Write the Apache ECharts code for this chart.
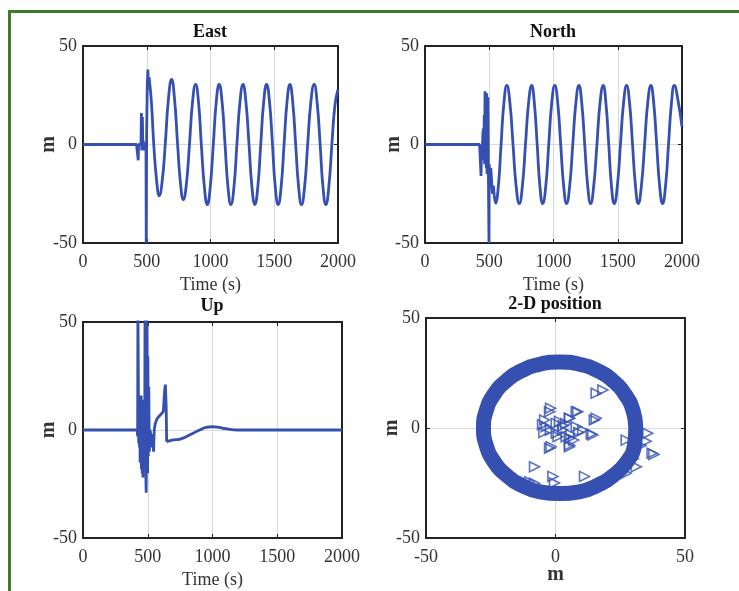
<!DOCTYPE html>
<html><head><meta charset="utf-8">
<script src="https://cdn.jsdelivr.net/npm/echarts@6/dist/echarts.min.js"></script>
<style>html,body{margin:0;padding:0;background:#fff}#c{width:739px;height:591px}</style>
</head><body><div id="c"></div>
<script>
// ---- data ----
const panelTitles = ['East', 'North', 'Up', '2-D position'];
const timeTicks = [0, 500, 1000, 1500, 2000];
const metreTicks = [-50, 0, 50];

// East: transient part (straight segments) and steady oscillation (smoothed)
const eastTransient = [[0,0],[420,0],[430,0],[433,-8],[436,0],[448,-1],[455,0],[458,16],[461,-3],[466,14],[469,-2],[472,2],[478,-3],[484,1],[490,-2],[494,0],[496,-50],[499,5],[504,30],[509,38],[513,28],[518,34]];
const eastSteady = [[518,34],[536,22],[555,0],[577,-18],[598,-26],[622,-18],[645,0],[670,23],[695,33],[718,23],[742,0],[765,-20],[787,-28],[811,-20],[835,0],[859,21.5],[883,30.5],[906,21.5],[928,0],[952,-21.5],[975,-30.5],[998,-21.5],[1022,0],[1045,21.5],[1068,30.5],[1091,21.5],[1114,0],[1137,-21.5],[1160,-30.5],[1184,-21.5],[1207,0],[1231,21.5],[1255,30.5],[1278,21.5],[1302,0],[1325,-21.5],[1348,-30.5],[1371,-21.5],[1394,0],[1417,21.5],[1440,30.5],[1463,21.5],[1486,0],[1508,-21.5],[1531,-30.5],[1554,-21.5],[1577,0],[1600,21.5],[1623,30.5],[1645,21.5],[1668,0],[1691,-21.5],[1714,-30.5],[1738,-21.5],[1762,0],[1787,21.5],[1813,30.5],[1836,21.5],[1860,0],[1882,-21.5],[1905,-30.5],[1928,-21.5],[1952,0],[1976,20],[2000,28]];

// North
const northTransient = [[0,0],[425,0],[430,0],[436,-16],[440,0],[445,-5],[450,5],[454,8],[457,-8],[461,15],[464,-10],[467,27],[470,-5],[474,20],[477,-12],[480,26],[483,-15],[486,18],[488,-10],[490,24],[494,-20],[498,-50],[500,-10],[506,-20],[512,-12],[525,-25],[533,-21]];
const northSteady = [[533,-21],[550,-29.8],[571,-21],[592,0],[614,21],[637,30],[661,21],[685,0],[709,-21],[734,-30],[758,-21],[782,0],[806,21],[830,30],[851,21],[873,0],[894,-21],[916,-30],[940,-21],[963,0],[986,21],[1010,30],[1033,21],[1056,0],[1079,-21],[1102,-30],[1126,-21],[1150,0],[1174,21],[1198,30],[1220,21],[1243,0],[1266,-21],[1289,-30],[1313,-21],[1338,0],[1362,21],[1387,30],[1408,21],[1430,0],[1451,-21],[1473,-30],[1497,-21],[1521,0],[1545,21],[1569,30],[1592,21],[1615,0],[1638,-21],[1660,-30],[1684,-21],[1709,0],[1733,21],[1758,30],[1780,21],[1803,0],[1826,-21],[1849,-30],[1872,-21],[1895,0],[1918,21],[1940,30],[1970,22],[2000,9]];

// Up
const upTransient = [[0,0],[418,0],[422,-3],[424,60],[428,60],[430,-6],[434,8],[436,-8],[439,16],[441,-15],[444,14],[446,-10],[449,16],[451,-18],[454,12],[457,-20],[460,14],[463,-22],[466,10],[469,-18],[472,12],[476,-15],[479,60],[483,60],[486,-24],[488,-29],[490,15],[493,60],[497,60],[499,-20],[501,34],[504,-12],[508,20],[512,-10],[518,0],[525,-3],[532,-8],[538,-2],[545,-10],[550,0],[558,3],[570,5],[590,6.5],[620,8.5],[630,18],[636,21],[642,12],[646,-5.4]];
const upSettle = [[646,-5.4],[700,-4.6],[750,-4.2],[800,-3],[850,-1.5],[900,0],[950,1.2],[1000,1.5],[1050,1.2],[1100,0.6],[1200,0],[1400,0],[2000,0]];

// 2-D position: centre line of the dense ring of points, and scattered markers
const ringEast =  [31, 30, 27, 22.4, 16.3, 9.2, 1.6, -6, -13.1, -19.2, -23.9, -26.8, -27.8, -26.8, -23.9, -19.2, -13.1, -6, 1.6, 9.2, 16.3, 22.4, 27.5, 30.5, 31];
const ringNorth = [0, 7.7, 15, 21.2, 26, 29, 30, 29, 26, 21.2, 15, 7.7, 0, -7.7, -15, -21.2, -26, -29, -29.8, -29, -26, -21.5, -15.5, -7.7, 0];
const markerEast =  [15.7, 18.3, -2.3, 8.6, 5.4, 15, 14.4, -2.3, 5.4, -8.1, -10, -8.1, -1, -0.4, 11.2, 27.3, 35.6, 37.3, 38, 31.2, 27.3, -1.9, 8, 15.7, 5.4, 8, 13.8, 5.4, -1.7, 5.4, -4.2, -3.6, 0.3, 2.8, 10.5, 4.1, 0.3, -5, -2, 1.5, 3, 6, 7, -4.5, 1, 4, 9, 33, 30, 35];
const markerNorth = [15.8, 17.3, 7.4, 7.4, 4.4, 3.6, -3.2, -9.2, -8.5, -17.6, -24.4, -25.1, -22, -25, -22, -5.5, -2.4, -11.5, -12, -17.6, -20.6, 9, 7.4, 4.4, 4.4, 0.6, -2.7, -4.7, -8.5, -7.7, 3.6, 0.6, 2.1, -0.9, -0.9, -4, -2.4, 1.5, -1, 3, 1, -3, -5.5, -2, -4, 2, -2, -8, -14, -6];

// ---- chart ----
const BLUE = '#3550b0';
const SERIF = '"Liberation Serif", "Times New Roman", serif';
const grids = [
  {left: 83, top: 46, width: 255, height: 197},
  {left: 425, top: 46, width: 257, height: 197},
  {left: 83, top: 322, width: 259, height: 216},
  {left: 426, top: 318, width: 259, height: 220}
];
const yNameGaps = [24, 21, 24, 24];
function plain(v) { return String(v); }
function axisCommon(gi) {
  return {
    type: 'value', gridIndex: gi,
    axisLine: {show: true, onZero: false, lineStyle: {color: '#222', width: 2}},
    axisTick: {show: true, inside: true, length: 4, lineStyle: {color: '#222', width: 1}},
    axisLabel: {fontFamily: SERIF, fontSize: 18, color: '#333', formatter: plain},
    splitLine: {show: true, lineStyle: {color: '#d9d9d9', width: 1}},
    nameLocation: 'middle',
    nameMoveOverlap: false
  };
}
const xAxes = [0, 1, 2, 3].map(function (gi) {
  const a = axisCommon(gi);
  if (gi < 3) {
    a.min = timeTicks[0]; a.max = timeTicks[timeTicks.length - 1]; a.interval = timeTicks[1] - timeTicks[0];
    a.name = 'Time (s)'; a.nameGap = 33;
    a.nameTextStyle = {fontFamily: SERIF, fontSize: 18, color: '#333'};
  } else {
    a.min = metreTicks[0]; a.max = metreTicks[2]; a.interval = metreTicks[1] - metreTicks[0];
    a.name = 'm'; a.nameGap = 27;
    a.nameTextStyle = {fontFamily: SERIF, fontSize: 20, fontWeight: 'bold', color: '#333'};
  }
  a.axisLabel.margin = 10;
  return a;
});
const yAxes = [0, 1, 2, 3].map(function (gi) {
  const a = axisCommon(gi);
  a.min = metreTicks[0]; a.max = metreTicks[2]; a.interval = metreTicks[1] - metreTicks[0];
  a.name = 'm'; a.nameGap = yNameGaps[gi]; a.nameRotate = 90;
  a.nameTextStyle = {fontFamily: SERIF, fontSize: 20, fontWeight: 'bold', color: '#333'};
  a.axisLabel.margin = 6;
  return a;
});
// extra top / right axes to close the box with ticks
[0, 1, 2, 3].forEach(function (gi) {
  const xt = {type: 'value', gridIndex: gi, position: 'top', min: xAxes[gi].min, max: xAxes[gi].max, interval: xAxes[gi].interval,
    axisLine: {show: true, onZero: false, lineStyle: {color: '#222', width: 2}},
    axisTick: {show: true, inside: true, length: 4, lineStyle: {color: '#222'}},
    axisLabel: {show: false}, splitLine: {show: false}};
  const yr = {type: 'value', gridIndex: gi, position: 'right', min: -50, max: 50, interval: 50,
    axisLine: {show: true, onZero: false, lineStyle: {color: '#222', width: 2}},
    axisTick: {show: true, inside: true, length: 4, lineStyle: {color: '#222'}},
    axisLabel: {show: false}, splitLine: {show: false}};
  xAxes.push(xt); yAxes.push(yr);
});

function lineSeries(gi, data, smooth) {
  return {type: 'line', xAxisIndex: gi, yAxisIndex: gi, data: data, smooth: smooth, showSymbol: false,
    lineStyle: {color: BLUE, width: 2.8}, itemStyle: {color: BLUE}, clip: true, z: 3};
}
const ringData = ringEast.map(function (e, i) { return [e, ringNorth[i]]; });
const markerData = markerEast.map(function (e, i) { return [e, markerNorth[i]]; });

const titleCenters = [[210, 23], [553, 23], [212, 297], [555, 295]];
const option = {
  animation: false,
  backgroundColor: '#fff',
  title: panelTitles.map(function (t, i) {
    return {text: t, left: titleCenters[i][0], top: titleCenters[i][1], textAlign: 'center', padding: 0,
      textStyle: {fontFamily: SERIF, fontSize: 18, fontWeight: 'bold', color: '#111'}};
  }),
  grid: grids.map(function (g) { return Object.assign({containLabel: false}, g); }),
  xAxis: xAxes,
  yAxis: yAxes,
  graphic: [
    {type: 'rect', shape: {x: 8, y: 10, width: 3, height: 600}, style: {fill: '#3f7a2b'}, silent: true},
    {type: 'rect', shape: {x: 8, y: 10, width: 760, height: 3}, style: {fill: '#3f7a2b'}, silent: true}
  ],
  series: [
    lineSeries(0, eastTransient, false),
    lineSeries(0, eastSteady, 0.5),
    lineSeries(1, northTransient, false),
    lineSeries(1, northSteady, 0.5),
    lineSeries(2, upTransient, false),
    lineSeries(2, upSettle, 0.5),
    {type: 'line', xAxisIndex: 3, yAxisIndex: 3, data: ringData, smooth: 0.5, showSymbol: false,
      lineStyle: {color: BLUE, width: 15}, z: 3},
    {type: 'scatter', xAxisIndex: 3, yAxisIndex: 3, data: markerData,
      symbol: 'path://M0,0L10,5L0,10Z', symbolSize: 10,
      itemStyle: {color: 'rgba(0,0,0,0)', borderColor: BLUE, borderWidth: 1.6}, z: 4}
  ]
};
const chart = echarts.init(document.getElementById('c'), null, {renderer: 'canvas'});
chart.setOption(option);
</script>
</body></html>
